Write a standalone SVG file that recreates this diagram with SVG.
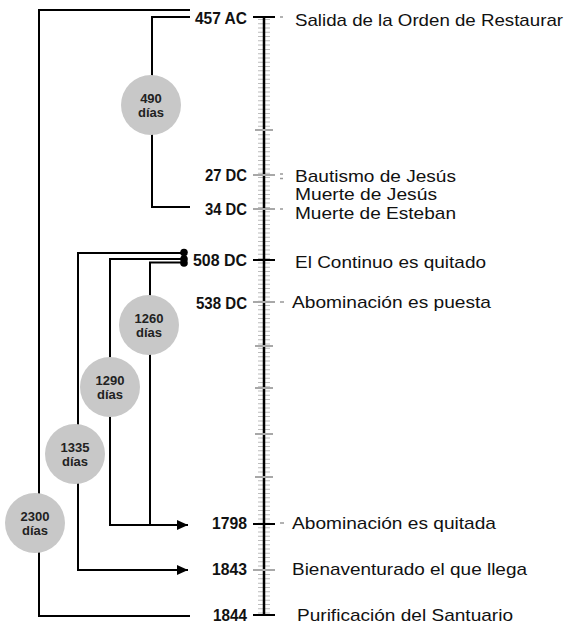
<svg xmlns="http://www.w3.org/2000/svg" width="566" height="625" viewBox="0 0 566 625">
<style>
.yr{font-family:"Liberation Sans",Arial,sans-serif;font-weight:bold;font-size:17px;fill:#111;text-anchor:end}
.ev{font-family:"Liberation Sans",Arial,sans-serif;font-size:17px;fill:#111}
.ct{font-family:"Liberation Sans",Arial,sans-serif;font-weight:bold;font-size:13px;fill:#222;text-anchor:middle}
.ln{fill:none;stroke:#000;stroke-width:2}
.bub{fill:#c8c8c8}
.tkb{stroke:#000;stroke-width:2}
.tkg{stroke:#a8a8a8;stroke-width:2}
.ds{stroke:#999;stroke-width:1.5}
</style>
<defs>
<marker id="ah" markerUnits="userSpaceOnUse" markerWidth="12" markerHeight="12" refX="11" refY="6" orient="auto">
<path d="M0,1 L11,6 L0,11 Z" fill="#000"/>
</marker>
</defs>
<rect width="566" height="625" fill="#fff"/>

<g id="ruler">
<line x1="264" y1="19" x2="264" y2="614" stroke="#bcbcbc" stroke-width="12" stroke-dasharray="1 3.27"/>
<line x1="264" y1="17" x2="264" y2="615" stroke="#000" stroke-width="2.5"/>
<line class="tkg" x1="255" y1="130" x2="273" y2="130" stroke-width="1.5"/>
<line class="tkg" x1="255" y1="346" x2="273" y2="346" stroke-width="1.5"/>
<line class="tkg" x1="255" y1="388" x2="273" y2="388" stroke-width="1.5"/>
<line class="tkg" x1="255" y1="434" x2="273" y2="434" stroke-width="1.5"/>
<line class="tkg" x1="255" y1="477" x2="273" y2="477" stroke-width="1.5"/>
</g>

<g id="connectors">
<path class="ln" d="M190,10 H39 V616 H190"/>
<path class="ln" d="M190,17 H152 V207 H190"/>
<path class="ln" d="M185,253 H78 V570 H188" marker-end="url(#ah)"/>
<path class="ln" d="M185,259 H110 V525 H150"/>
<path class="ln" d="M185,262.5 H150 V525"/>
<path class="ln" d="M150,525 H188" stroke-width="3.5" marker-end="url(#ah)"/>
<circle cx="184" cy="252.5" r="3.8" fill="#000"/>
<circle cx="184" cy="259" r="3.8" fill="#000"/>
<circle cx="184" cy="263" r="3.8" fill="#000"/>
</g>

<g id="c490"><circle class="bub" cx="151" cy="105" r="30"/><text class="ct" x="151" y="103">490</text><text class="ct" x="151" y="117">días</text></g>
<g id="c1260"><circle class="bub" cx="149" cy="325" r="30"/><text class="ct" x="149" y="323">1260</text><text class="ct" x="149" y="337">días</text></g>
<g id="c1290"><circle class="bub" cx="110" cy="387" r="30"/><text class="ct" x="110" y="385">1290</text><text class="ct" x="110" y="399">días</text></g>
<g id="c1335"><circle class="bub" cx="75" cy="454" r="30"/><text class="ct" x="75" y="452">1335</text><text class="ct" x="75" y="466">días</text></g>
<g id="c2300"><circle class="bub" cx="35" cy="523" r="30"/><text class="ct" x="35" y="521">2300</text><text class="ct" x="35" y="535">días</text></g>

<g id="e457">
<line class="tkb" x1="253" y1="17" x2="275" y2="17"/>
<line class="ds" x1="280" y1="17" x2="283" y2="17"/>
<text class="yr" x="247" y="24" textLength="52" lengthAdjust="spacingAndGlyphs">457 AC</text>
<text class="ev" x="295" y="26" textLength="268" lengthAdjust="spacingAndGlyphs">Salida de la Orden de Restaurar</text>
</g>
<g id="e27">
<line class="tkg" x1="253" y1="175" x2="275" y2="175"/>
<line class="ds" x1="280" y1="174" x2="283" y2="174"/>
<line class="ds" x1="280" y1="178.5" x2="283" y2="178.5"/>
<text class="yr" x="247" y="181" textLength="42" lengthAdjust="spacingAndGlyphs">27 DC</text>
<text class="ev" x="295" y="182" textLength="161" lengthAdjust="spacingAndGlyphs">Bautismo de Jesús</text>
</g>
<g id="e34">
<line class="tkg" x1="253" y1="209" x2="275" y2="209"/>
<line class="ds" x1="280" y1="209" x2="283" y2="209"/>
<text class="yr" x="247" y="215" textLength="42" lengthAdjust="spacingAndGlyphs">34 DC</text>
<text class="ev" x="295" y="200" textLength="142" lengthAdjust="spacingAndGlyphs">Muerte de Jesús</text>
<text class="ev" x="295" y="219" textLength="161" lengthAdjust="spacingAndGlyphs">Muerte de Esteban</text>
</g>
<g id="e508">
<line class="tkb" x1="253" y1="260" x2="275" y2="260"/>
<text class="yr" x="247" y="266" textLength="54" lengthAdjust="spacingAndGlyphs">508 DC</text>
<text class="ev" x="295" y="268" textLength="191" lengthAdjust="spacingAndGlyphs">El Continuo es quitado</text>
</g>
<g id="e538">
<line class="tkg" x1="253" y1="302" x2="275" y2="302"/>
<line class="ds" x1="280" y1="302" x2="284" y2="302"/>
<text class="yr" x="247" y="309" textLength="51" lengthAdjust="spacingAndGlyphs">538 DC</text>
<text class="ev" x="292" y="308" textLength="199" lengthAdjust="spacingAndGlyphs">Abominación es puesta</text>
</g>
<g id="e1798">
<line class="tkb" x1="253" y1="524" x2="275" y2="524"/>
<line class="ds" x1="280" y1="523" x2="284" y2="523"/>
<text class="yr" x="247" y="529" textLength="35" lengthAdjust="spacingAndGlyphs">1798</text>
<text class="ev" x="292" y="529" textLength="204" lengthAdjust="spacingAndGlyphs">Abominación es quitada</text>
</g>
<g id="e1843">
<line class="tkg" x1="253" y1="570" x2="275" y2="570"/>
<text class="yr" x="247" y="575" textLength="35" lengthAdjust="spacingAndGlyphs">1843</text>
<text class="ev" x="292" y="575" textLength="235" lengthAdjust="spacingAndGlyphs">Bienaventurado el que llega</text>
</g>
<g id="e1844">
<line class="tkb" x1="253" y1="615" x2="275" y2="615"/>
<text class="yr" x="247" y="621" textLength="34" lengthAdjust="spacingAndGlyphs">1844</text>
<text class="ev" x="297" y="621" textLength="216" lengthAdjust="spacingAndGlyphs">Purificación del Santuario</text>
</g>
</svg>
